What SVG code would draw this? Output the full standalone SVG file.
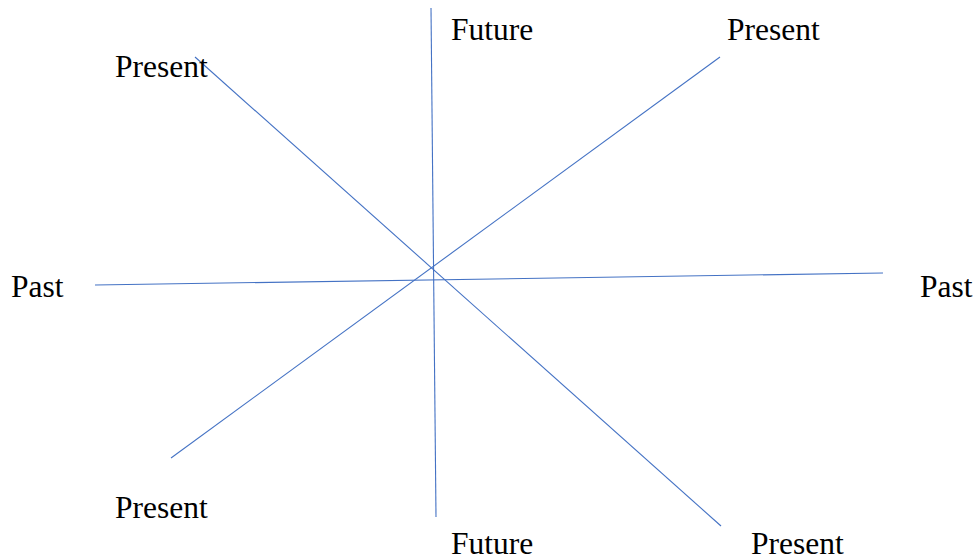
<svg xmlns="http://www.w3.org/2000/svg" width="977" height="560" viewBox="0 0 977 560">
<style>
.ln{stroke:#4472C4;stroke-width:1.1;fill:none}
.lb{font-family:"Liberation Serif","Times New Roman",serif;font-size:31.5px;fill:#000}
</style>
<rect width="977" height="560" fill="#fff"/>
<g id="connectors">
<line class="ln" x1="431" y1="8" x2="436" y2="517"/>
<line class="ln" x1="95" y1="285" x2="883" y2="273"/>
<line class="ln" x1="195" y1="57" x2="721" y2="526"/>
<line class="ln" x1="720" y1="57" x2="171" y2="458"/>
</g>
<g id="future-top"><text class="lb" x="451" y="40">Future</text></g>
<g id="present-topright"><text class="lb" x="727" y="40">Present</text></g>
<g id="present-topleft"><text class="lb" x="115" y="77">Present</text></g>
<g id="past-left"><text class="lb" x="11" y="297">Past</text></g>
<g id="past-right"><text class="lb" x="920" y="297">Past</text></g>
<g id="present-bottomleft"><text class="lb" x="115" y="518">Present</text></g>
<g id="future-bottom"><text class="lb" x="451" y="554">Future</text></g>
<g id="present-bottomright"><text class="lb" x="751" y="554">Present</text></g>
</svg>
